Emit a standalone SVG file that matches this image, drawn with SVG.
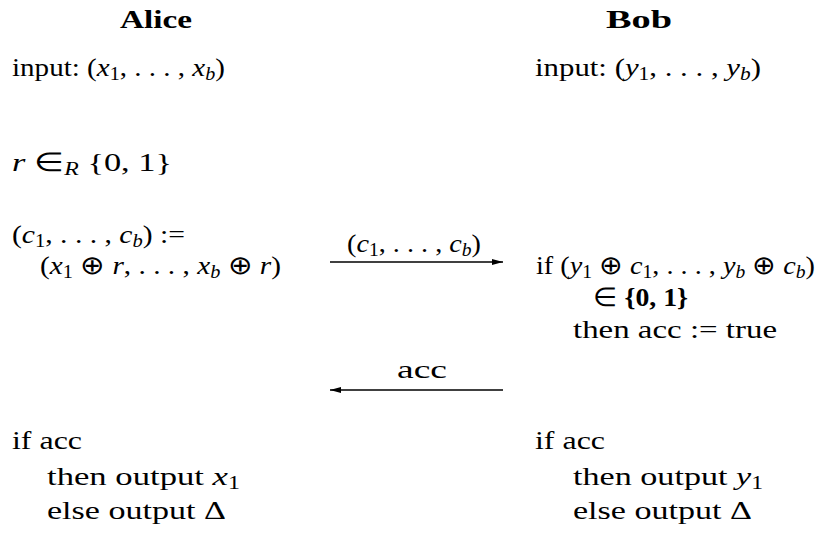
<svg xmlns="http://www.w3.org/2000/svg" width="821" height="537" viewBox="0 0 821 537">
<style>
text{font-family:"Liberation Serif","Times New Roman",serif;font-size:26px;fill:#000}
.b{font-weight:bold}
.i{font-style:italic}
.s{font-size:18px}
.c{stroke:#000;stroke-width:1.3;fill:none}
</style>
<defs>
<marker id="ah" markerWidth="11" markerHeight="6" refX="11" refY="3" orient="auto" markerUnits="userSpaceOnUse">
<path d="M0,0 L11,3 L0,6 z" fill="#000"/>
</marker>
</defs>
<rect width="821" height="537" fill="#fff"/>
<g id="alice">
<text class="b" x="120" y="28" textLength="72" lengthAdjust="spacingAndGlyphs">Alice</text>
<text x="12" y="76" textLength="213" lengthAdjust="spacingAndGlyphs">input: (<tspan class="i">x</tspan><tspan class="s" dy="4">1</tspan><tspan dy="-4">, . . . , </tspan><tspan class="i">x</tspan><tspan class="s i" dy="4">b</tspan><tspan dy="-4">)</tspan></text>
<text x="12" y="171" textLength="160" lengthAdjust="spacingAndGlyphs"><tspan class="i">r</tspan> ∈<tspan class="s i" dy="4">R</tspan><tspan dy="-4"> {0, 1}</tspan></text>
<text x="12" y="243" textLength="173" lengthAdjust="spacingAndGlyphs">(<tspan class="i">c</tspan><tspan class="s" dy="4">1</tspan><tspan dy="-4">, . . . , </tspan><tspan class="i">c</tspan><tspan class="s i" dy="4">b</tspan><tspan dy="-4">) :=</tspan></text>
<text x="40" y="274" textLength="241" lengthAdjust="spacingAndGlyphs">(<tspan class="i">x</tspan><tspan class="s" dy="4">1</tspan><tspan dy="-4"> ⊕ </tspan><tspan class="i">r</tspan>, . . . , <tspan class="i">x</tspan><tspan class="s i" dy="4">b</tspan><tspan dy="-4"> ⊕ </tspan><tspan class="i">r</tspan>)</text>
<text x="12" y="449" textLength="70" lengthAdjust="spacingAndGlyphs">if acc</text>
<text x="47" y="485" textLength="193" lengthAdjust="spacingAndGlyphs">then output <tspan class="i">x</tspan><tspan class="s" dy="4">1</tspan></text>
<text x="47" y="519" textLength="179" lengthAdjust="spacingAndGlyphs">else output Δ</text>
</g>
<g id="bob">
<text class="b" x="606" y="28" textLength="66" lengthAdjust="spacingAndGlyphs">Bob</text>
<text x="535" y="76" textLength="226" lengthAdjust="spacingAndGlyphs">input: (<tspan class="i">y</tspan><tspan class="s" dy="4">1</tspan><tspan dy="-4">, . . . , </tspan><tspan class="i">y</tspan><tspan class="s i" dy="4">b</tspan><tspan dy="-4">)</tspan></text>
<text x="536" y="274" textLength="279" lengthAdjust="spacingAndGlyphs">if (<tspan class="i">y</tspan><tspan class="s" dy="4">1</tspan><tspan dy="-4"> ⊕ </tspan><tspan class="i">c</tspan><tspan class="s" dy="4">1</tspan><tspan dy="-4">, . . . , </tspan><tspan class="i">y</tspan><tspan class="s i" dy="4">b</tspan><tspan dy="-4"> ⊕ </tspan><tspan class="i">c</tspan><tspan class="s i" dy="4">b</tspan><tspan dy="-4">)</tspan></text>
<text x="593" y="306" textLength="95" lengthAdjust="spacingAndGlyphs">∈ <tspan class="b">{0, 1}</tspan></text>
<text x="573" y="338" textLength="204" lengthAdjust="spacingAndGlyphs">then acc := true</text>
<text x="535" y="449" textLength="70" lengthAdjust="spacingAndGlyphs">if acc</text>
<text x="573" y="485" textLength="190" lengthAdjust="spacingAndGlyphs">then output <tspan class="i">y</tspan><tspan class="s" dy="4">1</tspan></text>
<text x="573" y="519" textLength="179" lengthAdjust="spacingAndGlyphs">else output Δ</text>
</g>
<g id="connectors">
<line class="c" x1="330" y1="262" x2="503" y2="262" marker-end="url(#ah)"/>
<text x="347" y="252" textLength="134" lengthAdjust="spacingAndGlyphs">(<tspan class="i">c</tspan><tspan class="s" dy="4">1</tspan><tspan dy="-4">, . . . , </tspan><tspan class="i">c</tspan><tspan class="s i" dy="4">b</tspan><tspan dy="-4">)</tspan></text>
<line class="c" x1="503" y1="390" x2="330" y2="390" marker-end="url(#ah)"/>
<text x="397" y="378" textLength="50" lengthAdjust="spacingAndGlyphs">acc</text>
</g>
</svg>
